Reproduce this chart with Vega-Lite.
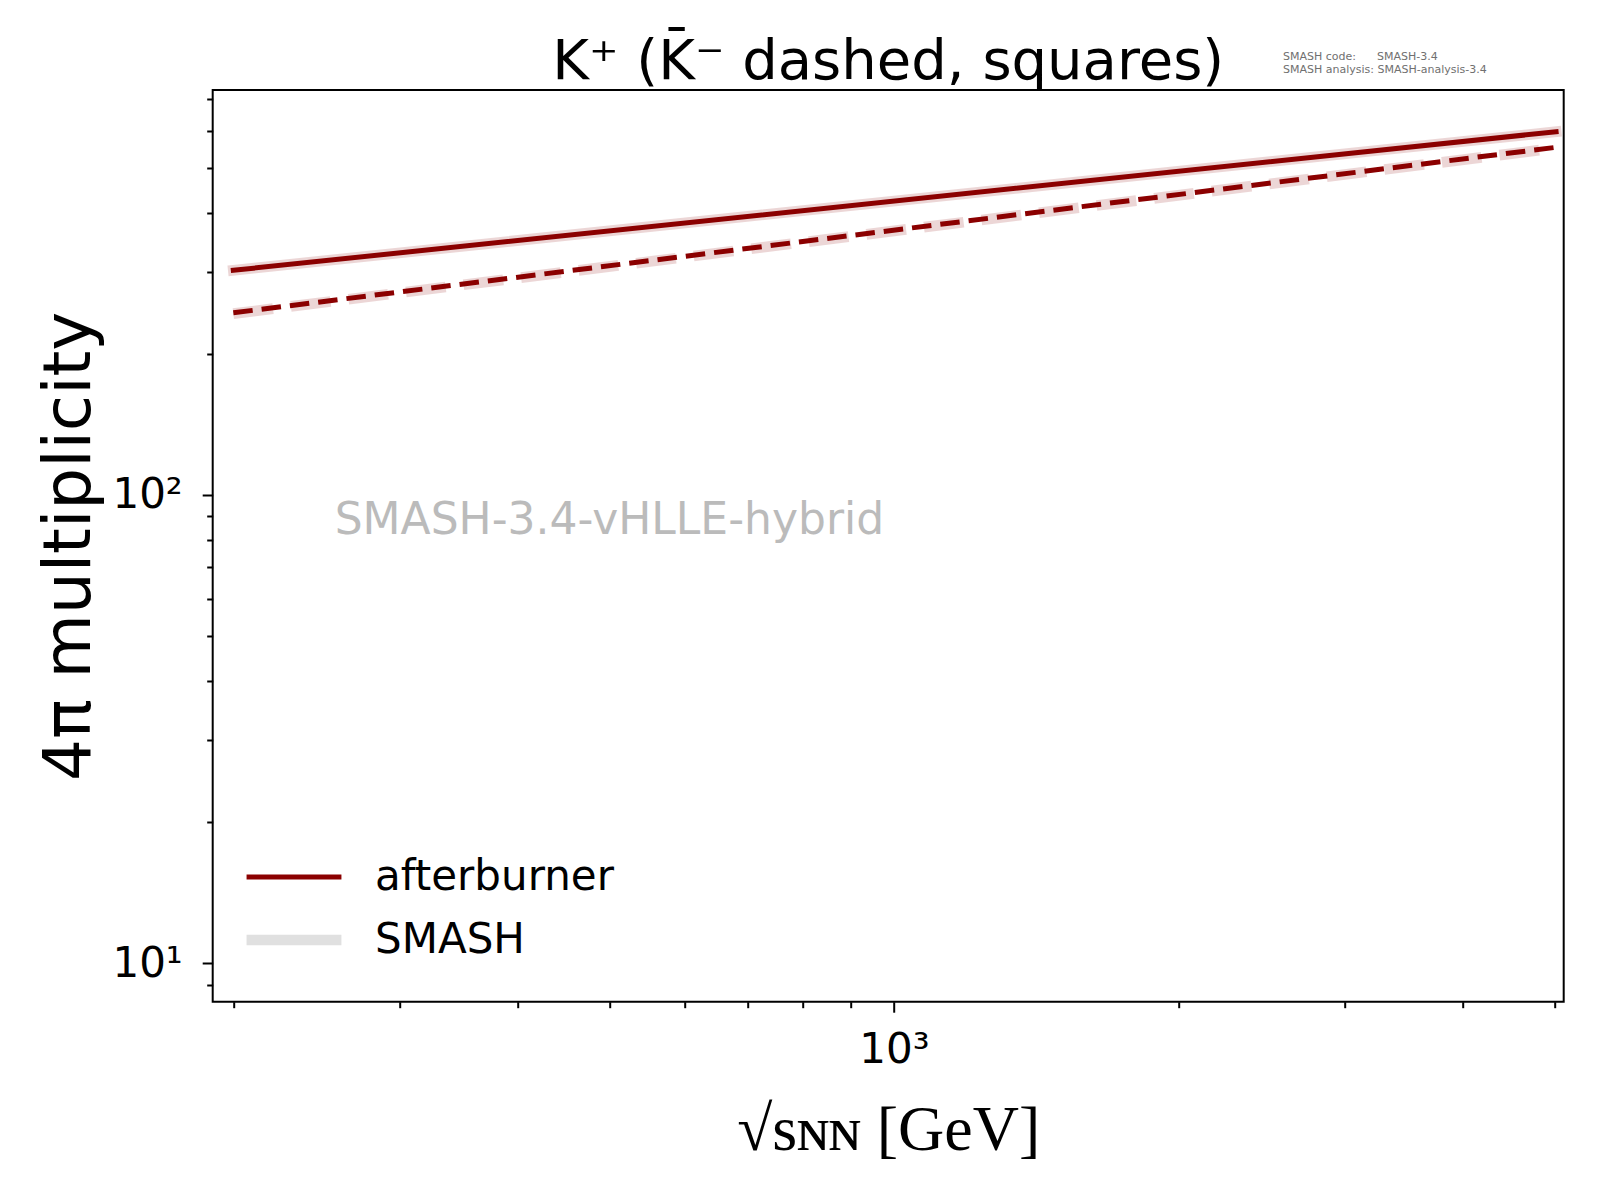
{
  "$schema": "https://vega.github.io/schema/vega-lite/v6.json",
  "autosize": {"type": "none"},
  "padding": {"left": 212.7, "top": 90, "right": 36.3, "bottom": 198.3},
  "width": 1351,
  "height": 911.7,
  "background": "white",
  "config": {
    "view": {"stroke": "black", "strokeWidth": 2},
    "font": "DejaVu Sans",
    "legend": {
      "symbolType": "M-3,0H3",
      "symbolSize": 1000,
      "labelFontSize": 42,
      "labelFont": "DejaVu Sans",
      "labelColor": "black",
      "labelOffset": 59.5,
      "rowPadding": 20.5,
      "padding": 0,
      "symbolOpacity": 1,
      "labelLimit": 500
    }
  },
  "title": {
    "text": "K⁺ (K̄⁻ dashed, squares)",
    "fontSize": 56,
    "font": "DejaVu Sans",
    "fontWeight": "normal",
    "baseline": "alphabetic",
    "offset": -84,
    "anchor": "middle",
    "color": "black"
  },
  "data": {
    "values": [
      {"source": "afterburner", "species": "K+", "sqrts": 200, "mult": 302},
      {"source": "afterburner", "species": "K+", "sqrts": 5020, "mult": 597},
      {"source": "afterburner", "species": "K-", "sqrts": 200, "mult": 245},
      {"source": "afterburner", "species": "K-", "sqrts": 5020, "mult": 553},
      {"source": "SMASH", "species": "K+", "sqrts": 200, "mult": 302},
      {"source": "SMASH", "species": "K+", "sqrts": 5020, "mult": 597},
      {"source": "SMASH", "species": "K-", "sqrts": 200, "mult": 244},
      {"source": "SMASH", "species": "K-", "sqrts": 5020, "mult": 551}
    ]
  },
  "encoding": {
    "x": {
      "field": "sqrts",
      "type": "quantitative",
      "scale": {"type": "log", "domain": [190.2, 5114], "nice": false},
      "axis": {
        "title": "√sɴɴ [GeV]",
        "titleFont": "Liberation Serif",
        "titleFontSize": 64,
        "titleFontWeight": "normal",
        "titleColor": "black",
        "titlePadding": 28,
        "values": [200, 300, 400, 500, 600, 700, 800, 900, 1000, 2000, 3000, 4000, 5000],
        "labelExpr": "datum.value == 1000 ? '10³' : ''",
        "labelFont": "DejaVu Sans",
        "labelFontSize": 42,
        "labelColor": "black",
        "labelPadding": 17,
        "labelOverlap": false,
        "labelFlush": false,
        "tickColor": "black",
        "tickWidth": 2,
        "tickSize": {"condition": {"test": "datum.value != 1000", "value": 6}, "value": 10.5},
        "domain": false,
        "grid": false
      }
    },
    "y": {
      "field": "mult",
      "type": "quantitative",
      "scale": {"type": "log", "domain": [8.27, 733], "nice": false},
      "axis": {
        "title": "4π multiplicity",
        "titleFont": "DejaVu Sans",
        "titleFontSize": 66,
        "titleFontWeight": "normal",
        "titleColor": "black",
        "titlePadding": 8,
        "values": [9, 10, 20, 30, 40, 50, 60, 70, 80, 90, 100, 200, 300, 400, 500, 600, 700],
        "labelExpr": "datum.value == 10 ? '10¹' : datum.value == 100 ? '10²' : ''",
        "labelFont": "DejaVu Sans",
        "labelFontSize": 42,
        "labelColor": "black",
        "labelPadding": 20,
        "labelOverlap": false,
        "labelFlush": false,
        "tickColor": "black",
        "tickWidth": 2,
        "tickSize": {"condition": {"test": "datum.value != 10 && datum.value != 100", "value": 6}, "value": 10.5},
        "domain": false,
        "grid": false
      }
    }
  },
  "layer": [
    {
      "transform": [{"filter": "datum.source == 'SMASH' && datum.species == 'K+'"}],
      "mark": {"type": "line", "color": "#8b0000", "opacity": 0.16, "strokeWidth": 10.7, "strokeCap": "square"}
    },
    {
      "transform": [{"filter": "datum.source == 'SMASH' && datum.species == 'K-'"}],
      "mark": {"type": "line", "color": "#8b0000", "opacity": 0.16, "strokeWidth": 10.7, "strokeCap": "butt", "strokeDash": [40, 18]}
    },
    {
      "transform": [{"filter": "datum.source == 'afterburner' && datum.species == 'K+'"}],
      "mark": {"type": "line", "strokeCap": "square"},
      "encoding": {
        "color": {
          "field": "source",
          "type": "ordinal",
          "scale": {"domain": ["afterburner", "SMASH"], "range": ["#8b0000", "#e0e0e0"]},
          "legend": {"orient": "none", "legendX": 59.8, "legendY": 766, "title": null}
        },
        "strokeWidth": {
          "field": "source",
          "type": "ordinal",
          "scale": {"domain": ["afterburner", "SMASH"], "range": [5, 10.7]},
          "legend": {"orient": "none", "legendX": 59.8, "legendY": 766, "title": null}
        }
      }
    },
    {
      "transform": [{"filter": "datum.source == 'afterburner' && datum.species == 'K-'"}],
      "mark": {"type": "line", "strokeCap": "butt", "strokeDash": [19.5, 9]},
      "encoding": {
        "color": {"field": "source", "type": "ordinal"},
        "strokeWidth": {"field": "source", "type": "ordinal"}
      }
    },
    {
      "data": {"values": [{"label": "SMASH-3.4-vHLLE-hybrid", "sx": 256, "sy": 88.0}]},
      "mark": {"type": "text", "align": "left", "baseline": "middle", "fontSize": 44, "font": "DejaVu Sans", "color": "#bbbbbb"},
      "encoding": {
        "x": {"field": "sx", "type": "quantitative"},
        "y": {"field": "sy", "type": "quantitative"},
        "text": {"field": "label"}
      }
    },
    {
      "data": {"values": [
        {"label": "SMASH code:\u00a0\u00a0\u00a0\u00a0\u00a0\u00a0SMASH-3.4", "sx": 2581, "sy": 890},
        {"label": "SMASH analysis: SMASH-analysis-3.4", "sx": 2581, "sy": 835}
      ]},
      "mark": {"type": "text", "align": "left", "baseline": "top", "fontSize": 11, "font": "DejaVu Sans", "color": "#707070"},
      "encoding": {
        "x": {"field": "sx", "type": "quantitative"},
        "y": {"field": "sy", "type": "quantitative"},
        "text": {"field": "label"}
      }
    }
  ]
}
